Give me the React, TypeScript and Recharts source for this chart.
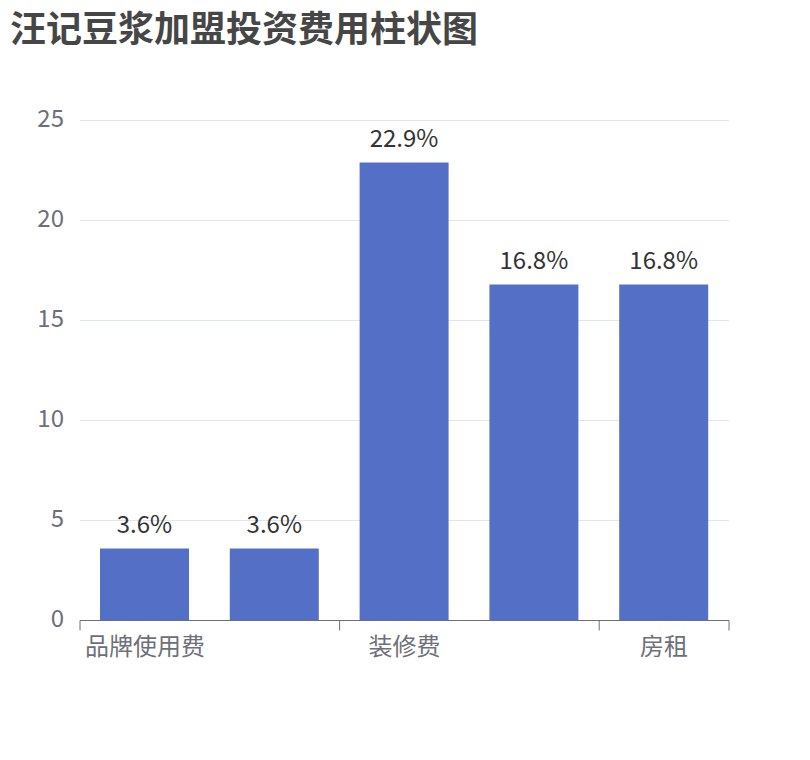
import { BarChart, Bar, XAxis, YAxis, CartesianGrid, LabelList } from 'recharts';

const categories = ['品牌使用费', '加盟费', '装修费', '设备费', '房租'];
const shares = [3.6, 3.6, 22.9, 16.8, 16.8];
const yTicks = [0, 5, 10, 15, 20, 25];

const data = categories.map((name, i) => ({ name, value: shares[i] }));

const COLORS = {
  bar: '#5470C6',
  axis: '#6E7079',
  grid: '#E0E6F1',
  label: '#333333',
  title: '#464646',
};

const FONT = '"Noto Sans CJK SC", "Noto Sans", sans-serif';
const TICK_SIZE = 10;
const TICK_MARGIN = 7;

// echarts-style tick: line on the band boundary, label in the band centre
const BoundaryTick = (props: any) => {
  const { x, y, payload } = props;
  const half = payload?.offset ?? 64.9;
  const axisY = y - TICK_SIZE - TICK_MARGIN;
  const isLast = payload?.value === categories[categories.length - 1];
  return (
    <g>
      <line x1={x - half} x2={x - half} y1={axisY} y2={axisY + TICK_SIZE} stroke={COLORS.axis} />
      {isLast && (
        <line x1={x + half} x2={x + half} y1={axisY} y2={axisY + TICK_SIZE} stroke={COLORS.axis} />
      )}
      <text x={x} y={y} dy="0.71em" textAnchor="middle" fill={COLORS.axis} fontSize={24} fontFamily={FONT}>
        {payload.value}
      </text>
    </g>
  );
};

const ValueTick = (props: any) => {
  const { x, y, payload } = props;
  return (
    <text x={x} y={y} dy={6} textAnchor="end" fill={COLORS.axis} fontSize={24} fontFamily={FONT}>
      {payload.value}
    </text>
  );
};

export default function App() {
  return (
    <div style={{ position: 'absolute', left: 0, top: 0, width: 810, height: 760, background: '#fff' }}>
      <div style={{ position: 'absolute', left: 0, top: 0 }}>
        <BarChart
          width={810}
          height={760}
          data={data}
          margin={{ top: 120.5, right: 81, left: 0, bottom: 99.5 }}
          style={{ fontFamily: FONT }}
        >
          <CartesianGrid vertical={false} stroke={COLORS.grid} />
          <XAxis
            dataKey="name"
            height={40}
            interval={1}
            tickLine={false}
            tickSize={TICK_SIZE}
            tickMargin={TICK_MARGIN}
            axisLine={{ stroke: COLORS.axis }}
            tick={<BoundaryTick />}
          />
          <YAxis
            width={80}
            domain={[0, 25]}
            ticks={yTicks}
            axisLine={false}
            tickLine={false}
            tickMargin={10}
            tick={<ValueTick />}
          />
          <Bar dataKey="value" fill={COLORS.bar} barSize={89} isAnimationActive={false}>
            <LabelList
              dataKey="value"
              position="top"
              offset={16}
              formatter={(v: any) => `${v}%`}
              fill={COLORS.label}
              fontSize={24}
              fontFamily={FONT}
            />
          </Bar>
        </BarChart>
      </div>
      <svg width={500} height={60} style={{ position: 'absolute', left: 0, top: 0 }}>
        <text x={10} y={42} fontFamily={FONT} fontWeight="bold" fontSize={36} fill={COLORS.title}>
          汪记豆浆加盟投资费用柱状图
        </text>
      </svg>
    </div>
  );
}
